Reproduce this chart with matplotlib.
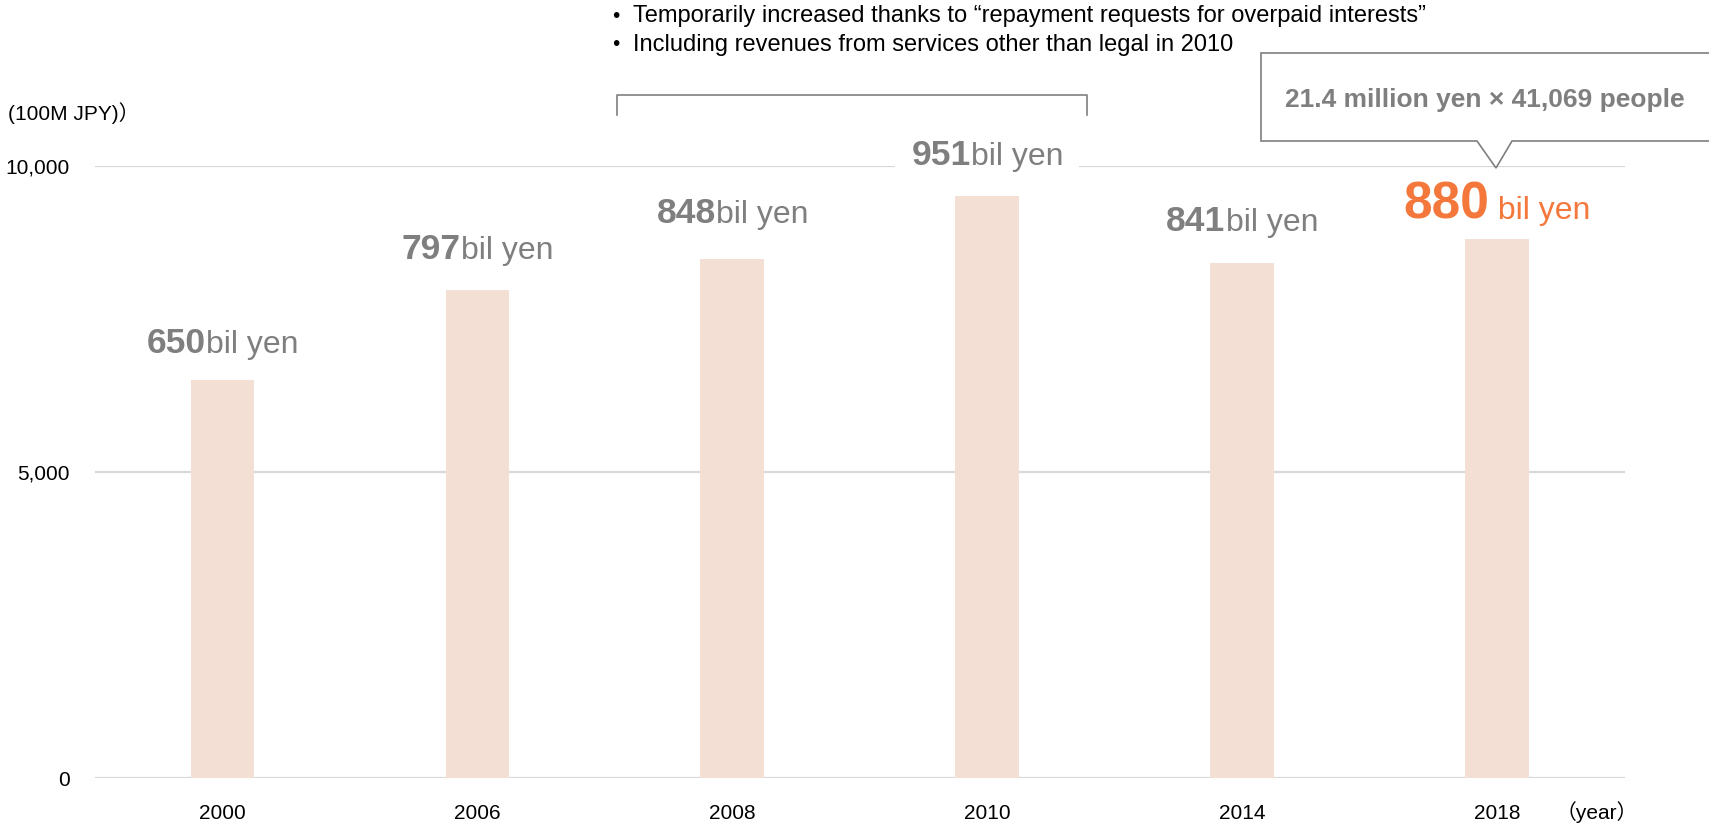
import matplotlib
matplotlib.use("Agg")
import matplotlib.pyplot as plt
from matplotlib.lines import Line2D
from matplotlib.patches import Polygon, Rectangle
from matplotlib.transforms import Bbox, IdentityTransform
from matplotlib.ticker import FuncFormatter

plt.rcParams['font.family'] = ['Liberation Sans', 'Noto Sans CJK JP', 'DejaVu Sans']

# data (100M JPY)
years = ['2000', '2006', '2008', '2010', '2014', '2018']
values = [6500, 7970, 8480, 9510, 8410, 8800]
labels_num = ['650', '797', '848', '951', '841', '880']
unit = 'bil yen'
notes = ['Temporarily increased thanks to \u201crepayment requests for overpaid interests\u201d',
         'Including revenues from services other than legal in 2010']
callout = '21.4 million yen \u00d7 41,069 people'

BAR = '#F4DFD5'
GRAY = '#7F7F7F'
ORANGE = '#F4773C'
GRID = '#D9D9D9'

# label offsets above bar tops, in points
label_off = [19.5, 22.5, 26, 22.5, 23, 15]

W, H = 1709, 826
fig = plt.figure(figsize=(W / 100, H / 100), dpi=100)
ax = fig.add_axes([95 / W, 48 / H, 1529.5 / W, 612 / H])

ax.bar(years, values, width=0.25, color=BAR, zorder=2)
ax.set_xlim(-0.5, len(years) - 0.5)
ax.set_ylim(0, 10000)
ax.set_yticks([0, 5000, 10000])
ax.yaxis.set_major_formatter(FuncFormatter(lambda v, p: '{:,.0f}'.format(v)))
ax.yaxis.grid(True, color=GRID, lw=1.6)
ax.set_axisbelow(True)
for s in ax.spines.values():
    s.set_visible(False)
ax.tick_params(axis='both', length=0, labelsize=15, colors='black')
ax.tick_params(axis='y', pad=18)
ax.tick_params(axis='x', pad=19)

# value labels: bold number + regular unit, centred over each bar
pairs = []
for i, (v, num) in enumerate(zip(values, labels_num)):
    last = (i == len(values) - 1)
    col = ORANGE if last else GRAY
    off = label_off[i]
    t1 = ax.annotate(num, xy=(i, v), xytext=(0, off), textcoords='offset points',
                     ha='right', va='baseline', fontsize=37 if last else 25.5,
                     fontweight='bold', color=col, zorder=5)
    t2 = ax.annotate((' ' + unit) if last else unit, xy=(i, v), xytext=(0, off),
                     textcoords='offset points', ha='left', va='baseline',
                     fontsize=23, color=col, zorder=5)
    pairs.append((t1, t2, off, num))

fig.canvas.draw()
for t1, t2, off, num in pairs:
    w1 = t1.get_window_extent().width
    w2 = t2.get_window_extent().width
    shift = (w1 - w2) / 2 * 72 / fig.dpi
    t1.xyann = (shift, off)
    t2.xyann = (shift, off)

# white background behind the 951 label so it breaks the top gridline
fig.canvas.draw()
for t1, t2, off, num in pairs:
    if num == '951':
        bb = Bbox.union([t1.get_window_extent(), t2.get_window_extent()])
        ax.add_artist(Rectangle((bb.x0 - 16, bb.y0 - 4), bb.width + 32, bb.height + 8,
                                transform=IdentityTransform(), fc='white', ec='none',
                                zorder=4, clip_on=False))

# axis captions
fig.text(8 / W, 1 - 113 / H, '(100M JPY)\uff09', fontsize=15, ha='left', va='center')
fig.text(1556 / W, 1 - 812 / H, '\uff08year\uff09', fontsize=15, ha='left', va='center')

# notes above 2008-2010
for k, line in enumerate(notes):
    y = 1 - (16 + 29 * k) / H
    fig.text(612 / W, y, '\u2022', fontsize=15, ha='left', va='center')
    fig.text(633 / W, y, line, fontsize=17, ha='left', va='center')

bx = [617 / W, 617 / W, 1087 / W, 1087 / W]
by = [1 - 115 / H, 1 - 95 / H, 1 - 95 / H, 1 - 115 / H]
fig.add_artist(Line2D(bx, by, transform=fig.transFigure, color=GRAY, lw=1.2))

# callout box for 2018
pts = [(1261, 53), (1712, 53), (1712, 141), (1512, 141), (1496, 168), (1477, 141), (1261, 141)]
poly = Polygon([(x / W, 1 - y / H) for x, y in pts], closed=True, transform=fig.transFigure,
               fc='white', ec=GRAY, lw=1.2, zorder=6)
fig.add_artist(poly)
fig.text(1485 / W, 1 - 100 / H, callout, fontsize=19, fontweight='bold', color=GRAY,
         ha='center', va='center', zorder=7)

fig.savefig('out.png', dpi=100)
